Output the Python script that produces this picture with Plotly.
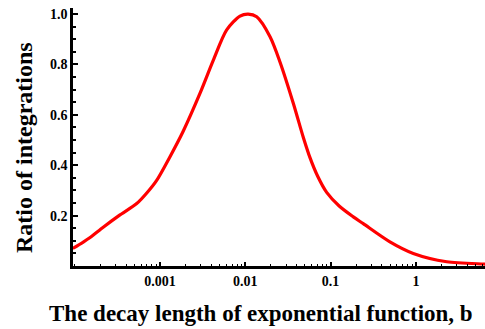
import plotly.graph_objects as go

decay_b = [9.5e-5, 1.26e-4, 1.5e-4, 2.16e-4, 3.3e-4, 5.33e-4, 7.08e-4, 9.14e-4, 1.31e-3,
           1.87e-3, 2.94e-3, 4.22e-3, 6.05e-3, 8.67e-3, 1.08e-2, 1.36e-2, 1.95e-2,
           2.55e-2, 3.66e-2, 4.79e-2, 5.73e-2, 7.08e-2, 8.99e-2, 0.126, 0.1845, 0.2415,
           0.49, 0.931, 2.30, 6.17, 7.0]
ratio = [0.070, 0.095, 0.112, 0.154, 0.200, 0.248, 0.292, 0.340, 0.434,
         0.535, 0.685, 0.817, 0.937, 0.992, 1.0, 0.989, 0.910,
         0.81, 0.645, 0.51, 0.43, 0.355, 0.292, 0.238, 0.195, 0.168,
         0.097, 0.050, 0.017, 0.008, 0.007]

x_ticks = [0.001, 0.01, 0.1, 1]
x_ticklabels = ["0.001", "0.01", "0.1", "1"]
y_ticks = [0.2, 0.4, 0.6, 0.8, 1.0]
y_ticklabels = ["0.2", "0.4", "0.6", "0.8", "1.0"]

W, H = 485, 329
L, R, T, B = 73, 0, 8, 63
pw = W - L - R
ph = H - T - B

fig = go.Figure()
fig.add_trace(go.Scatter(x=decay_b, y=ratio, mode="lines",
                         line=dict(color="#ff0000", width=3.2, shape="spline", smoothing=0.8),
                         showlegend=False, hoverinfo="skip"))

tickfont = dict(family="Liberation Serif", size=14, color="black", weight="bold")
fig.update_layout(
    width=W, height=H,
    margin=dict(l=L, r=R, t=T, b=B),
    paper_bgcolor="white", plot_bgcolor="white",
    xaxis=dict(type="log", range=[-4.02, 0.81], showgrid=False, zeroline=False,
               showline=True, linecolor="black", linewidth=2.5,
               tickvals=x_ticks, ticktext=x_ticklabels, ticks="inside",
               ticklen=4, tickwidth=2, tickcolor="black", tickfont=tickfont,
               minor=dict(ticks="inside", ticklen=2, tickwidth=1, tickcolor="black",
                          dtick="D1", showgrid=False)),
    yaxis=dict(range=[0, 1.024], showgrid=False, zeroline=False,
               showline=True, linecolor="black", linewidth=2.5,
               tickvals=y_ticks, ticktext=y_ticklabels, ticks="inside",
               ticklen=5, tickwidth=2, tickcolor="black", tickfont=tickfont,
               ticklabelstandoff=0,
               minor=dict(ticks="inside", ticklen=3, tickwidth=1.5, tickcolor="black",
                          dtick=0.05, showgrid=False)),
    annotations=[
        dict(text="<b>The decay length of exponential function, b</b>", xref="paper", yref="paper",
             x=(47 - L) / pw, y=-(314 - (T + ph)) / ph, xanchor="left", yanchor="middle",
             showarrow=False, font=dict(family="Liberation Serif", size=23, color="black")),
        dict(text="<b>Ratio of integrations</b>", xref="paper", yref="paper", textangle=-90,
             x=(24 - L) / pw, y=(T + ph - 148) / ph, xanchor="center", yanchor="middle",
             showarrow=False, font=dict(family="Liberation Serif", size=24, color="black")),
    ],
)
fig.write_html("out.html")
